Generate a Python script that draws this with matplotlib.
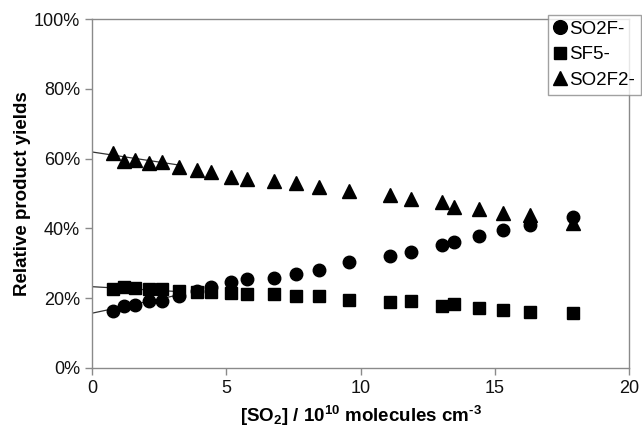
import numpy as np
import matplotlib.pyplot as plt

plt.rcParams['font.family'] = ['Liberation Sans', 'DejaVu Sans']
plt.rcParams['mathtext.fontset'] = 'custom'
plt.rcParams['mathtext.rm'] = 'Liberation Sans:bold'
plt.rcParams['mathtext.bf'] = 'Liberation Sans:bold'
plt.rcParams['mathtext.default'] = 'bf'

# [SO2] / 1e10 molecules cm-3
so2 = [0.79, 1.19, 1.6, 2.13, 2.6, 3.25, 3.92, 4.43, 5.18, 5.76, 6.78,
       7.59, 8.47, 9.58, 11.1, 11.88, 13.02, 13.46, 14.4, 15.32, 16.3, 17.9]

# relative yields in %
so2f = [16.4, 17.9, 18.1, 19.2, 19.2, 20.5, 22.0, 23.1, 24.6, 25.4, 25.8,
        27.0, 28.1, 30.5, 32.0, 33.1, 35.2, 36.2, 37.7, 39.4, 40.9, 43.4]
sf5 = [22.6, 23.3, 23.0, 22.6, 22.6, 22.0, 21.9, 21.9, 21.6, 21.2, 21.2,
       20.6, 20.6, 19.5, 18.9, 19.2, 17.9, 18.2, 17.1, 16.7, 16.1, 15.9]
so2f2 = [61.6, 59.4, 59.7, 58.7, 58.9, 57.7, 56.6, 56.3, 54.7, 54.1, 53.6,
         53.0, 51.8, 50.7, 49.5, 48.4, 47.7, 46.1, 45.7, 44.5, 43.8, 41.5]

# short fitted lines near the low-concentration end
fit_x = [0, 3.2]
fit_so2f = [15.7, 20.9]
fit_sf5 = [23.3, 21.9]
fit_so2f2 = [61.9, 58.2]

fig = plt.figure(figsize=(6.42, 4.29), dpi=100)
ax = fig.add_axes([0.1433, 0.1422, 0.8367, 0.8135])

gray = '#8a8a8a'
ax.plot(fit_x, fit_so2f, color='#333333', lw=0.9)
ax.plot(fit_x, fit_sf5, color='#333333', lw=0.9)
ax.plot(fit_x, fit_so2f2, color='#333333', lw=0.9)

ax.plot(so2, so2f, 'o', color='black', ms=9, label='SO2F-')
ax.plot(so2, sf5, 's', color='black', ms=8.5, label='SF5-')
ax.plot(so2, so2f2, '^', color='black', ms=9.5, label='SO2F2-')

ax.set_xlim(0, 20)
ax.set_ylim(0, 100)
ax.set_xticks([0, 5, 10, 15, 20])
ax.set_yticks([0, 20, 40, 60, 80, 100])
ax.set_yticklabels(['0%', '20%', '40%', '60%', '80%', '100%'])
ax.tick_params(colors=gray, labelcolor='#111111', labelsize=13, length=5, width=1)
for s in ax.spines.values():
    s.set_color(gray)
    s.set_linewidth(1)

ax.set_xlabel(r'[SO$_{2}$] / 10$^{10}$ molecules cm$^{\text{-3}}$', fontsize=13.5,
              fontweight='bold', labelpad=5)
ax.set_ylabel('Relative product yields', fontsize=13.5, fontweight='bold', labelpad=2)

leg = fig.legend(loc='upper right', bbox_to_anchor=(641 / 642, 1 - 15 / 429),
                 fontsize=13.5, frameon=True, fancybox=False, handlelength=0.7,
                 handletextpad=0.15, borderpad=0.3, labelspacing=0.45,
                 borderaxespad=0, markerscale=1.1)
leg.get_frame().set_edgecolor(gray)
leg.get_frame().set_linewidth(1)

fig.savefig('out.png', dpi=100)
